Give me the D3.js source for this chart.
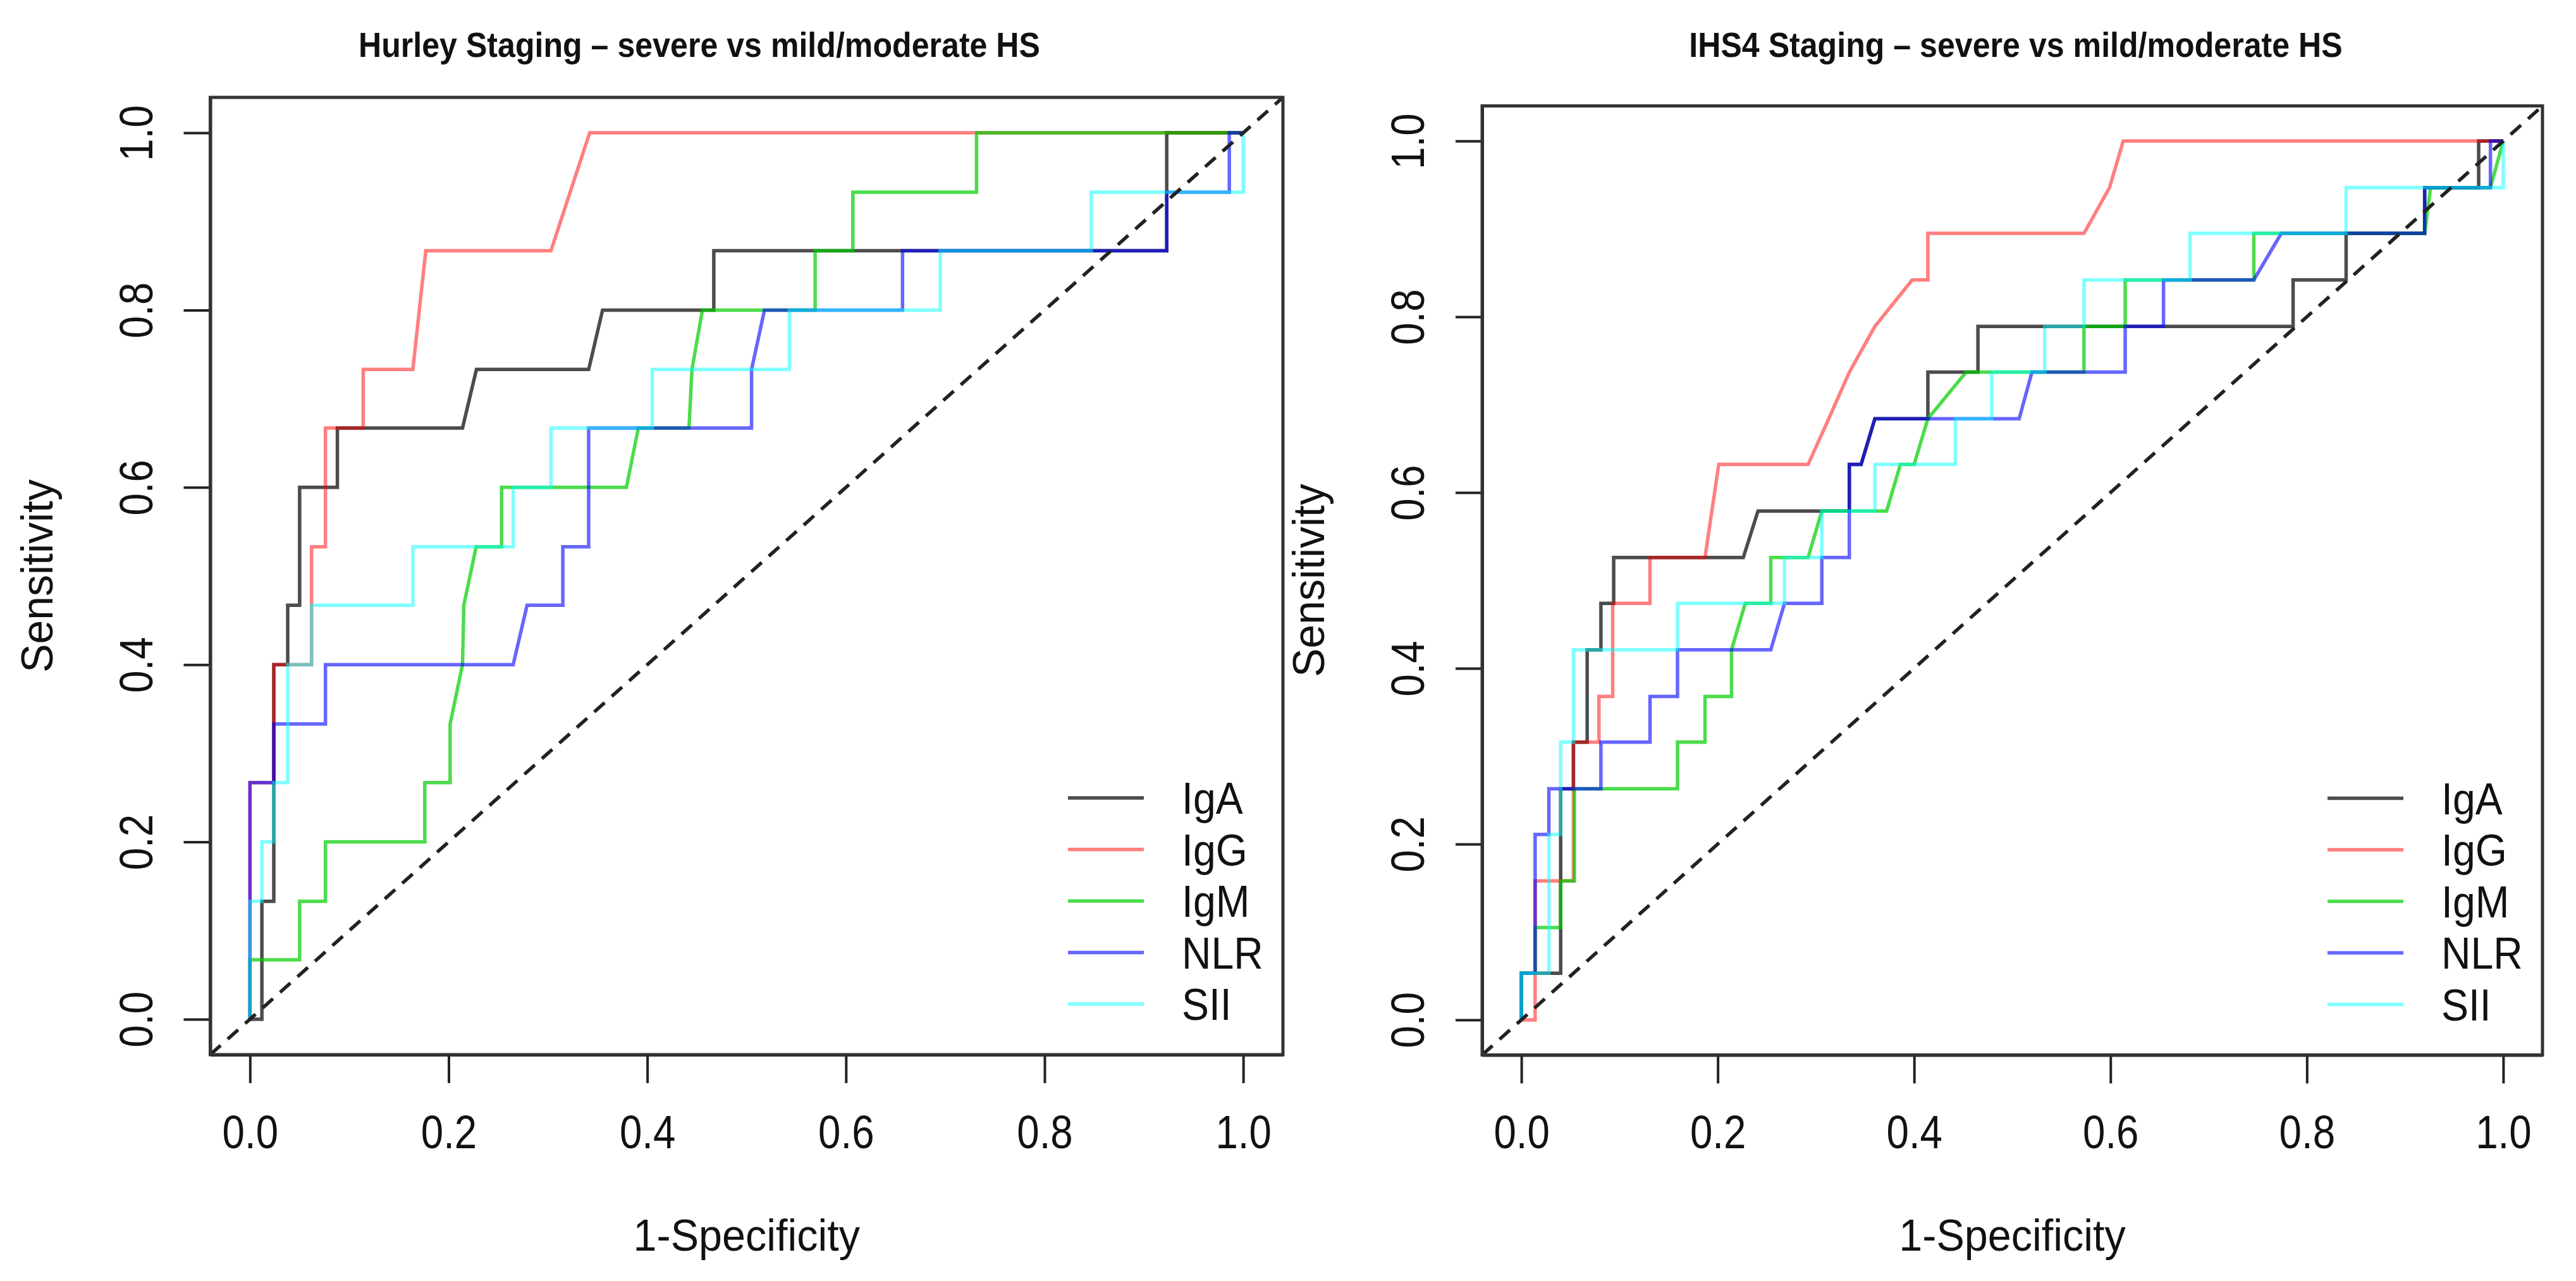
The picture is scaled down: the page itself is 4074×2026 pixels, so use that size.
<!DOCTYPE html>
<html>
<head>
<meta charset="utf-8">
<script src="https://cdn.jsdelivr.net/npm/d3@7"></script>
<style>
  body { margin: 0; background: #fff; }
  text { font-family: "Liberation Sans", Arial, Helvetica, sans-serif; fill: #111; }
</style>
</head>
<body>
<svg id="roc"></svg>
<script>
// --- data (x = 1-Specificity, y = Sensitivity) ---
const markers = ["IgA", "IgG", "IgM", "NLR", "SII"];
const tickValues = [0, 0.2, 0.4, 0.6, 0.8, 1.0];
const tickLabels = ["0.0", "0.2", "0.4", "0.6", "0.8", "1.0"];
const panelTitles = ["Hurley Staging \u2013 severe vs mild/moderate HS", "IHS4 Staging \u2013 severe vs mild/moderate HS"];

// Hurley staging (15 severe cases)
const hurleyIgA = [[0,0],[0.012,0],[0.012,0.133],[0.024,0.133],[0.024,0.4],[0.038,0.4],[0.038,0.467],[0.05,0.467],[0.05,0.6],[0.088,0.6],[0.088,0.667],[0.214,0.667],[0.228,0.733],[0.341,0.733],[0.355,0.8],[0.467,0.8],[0.467,0.867],[0.923,0.867],[0.923,1],[1,1]];
const hurleyIgG = [[0,0],[0,0.267],[0.024,0.267],[0.024,0.4],[0.062,0.4],[0.062,0.533],[0.076,0.533],[0.076,0.667],[0.114,0.667],[0.114,0.733],[0.164,0.733],[0.177,0.867],[0.303,0.867],[0.342,1],[1,1]];
const hurleyIgM = [[0,0],[0,0.067],[0.05,0.067],[0.05,0.133],[0.076,0.133],[0.076,0.2],[0.176,0.2],[0.176,0.267],[0.2015,0.267],[0.2015,0.333],[0.214,0.4],[0.2153,0.467],[0.2277,0.533],[0.2533,0.533],[0.2533,0.6],[0.379,0.6],[0.391,0.667],[0.442,0.667],[0.445,0.733],[0.4555,0.8],[0.569,0.8],[0.569,0.867],[0.607,0.867],[0.607,0.933],[0.7315,0.933],[0.7315,1],[1,1]];
const hurleyNLR = [[0,0],[0,0.267],[0.024,0.267],[0.024,0.333],[0.076,0.333],[0.076,0.4],[0.265,0.4],[0.279,0.467],[0.315,0.467],[0.315,0.533],[0.341,0.533],[0.341,0.667],[0.505,0.667],[0.505,0.733],[0.518,0.8],[0.657,0.8],[0.657,0.867],[0.923,0.867],[0.923,0.933],[0.986,0.933],[0.986,1],[1,1]];
const hurleySII = [[0,0],[0,0.133],[0.012,0.133],[0.012,0.2],[0.024,0.2],[0.024,0.267],[0.038,0.267],[0.038,0.4],[0.062,0.4],[0.062,0.467],[0.164,0.467],[0.164,0.533],[0.265,0.533],[0.265,0.6],[0.303,0.6],[0.303,0.667],[0.405,0.667],[0.405,0.733],[0.543,0.733],[0.543,0.8],[0.695,0.8],[0.695,0.867],[0.847,0.867],[0.847,0.933],[1,0.933],[1,1]];

// IHS4 staging (19 severe cases)
const ihs4IgA = [[0,0],[0,0.053],[0.040,0.053],[0.040,0.263],[0.053,0.263],[0.053,0.316],[0.067,0.316],[0.067,0.421],[0.081,0.421],[0.081,0.474],[0.094,0.474],[0.094,0.526],[0.226,0.526],[0.241,0.579],[0.334,0.579],[0.334,0.632],[0.346,0.632],[0.360,0.684],[0.414,0.684],[0.414,0.737],[0.465,0.737],[0.465,0.789],[0.786,0.789],[0.786,0.842],[0.840,0.842],[0.840,0.895],[0.920,0.895],[0.920,0.947],[0.975,0.947],[0.975,1],[1,1]];
const ihs4IgG = [[0,0],[0.014,0],[0.014,0.158],[0.053,0.158],[0.053,0.316],[0.079,0.316],[0.079,0.368],[0.093,0.368],[0.093,0.474],[0.131,0.474],[0.131,0.526],[0.187,0.526],[0.201,0.632],[0.292,0.632],[0.313,0.684],[0.334,0.737],[0.360,0.789],[0.398,0.842],[0.414,0.842],[0.414,0.895],[0.573,0.895],[0.599,0.947],[0.613,1],[1,1]];
const ihs4IgM = [[0,0],[0,0.053],[0.014,0.053],[0.014,0.105],[0.040,0.105],[0.040,0.158],[0.054,0.158],[0.054,0.263],[0.159,0.263],[0.159,0.316],[0.187,0.316],[0.187,0.368],[0.214,0.368],[0.214,0.421],[0.228,0.474],[0.254,0.474],[0.254,0.526],[0.292,0.526],[0.306,0.579],[0.372,0.579],[0.386,0.632],[0.400,0.632],[0.414,0.684],[0.453,0.737],[0.573,0.737],[0.573,0.789],[0.615,0.789],[0.615,0.842],[0.746,0.842],[0.746,0.895],[0.920,0.895],[0.926,0.947],[0.987,0.947],[1,1]];
const ihs4NLR = [[0,0],[0,0.053],[0.014,0.053],[0.014,0.211],[0.028,0.211],[0.028,0.263],[0.081,0.263],[0.081,0.316],[0.131,0.316],[0.131,0.368],[0.159,0.368],[0.159,0.421],[0.254,0.421],[0.268,0.474],[0.306,0.474],[0.306,0.526],[0.334,0.526],[0.334,0.632],[0.346,0.632],[0.360,0.684],[0.507,0.684],[0.520,0.737],[0.615,0.737],[0.615,0.789],[0.654,0.789],[0.654,0.842],[0.746,0.842],[0.774,0.895],[0.920,0.895],[0.920,0.947],[0.987,0.947],[0.987,1],[1,1]];
const ihs4SII = [[0,0],[0,0.053],[0.028,0.053],[0.028,0.211],[0.040,0.211],[0.040,0.316],[0.053,0.316],[0.053,0.421],[0.159,0.421],[0.159,0.474],[0.268,0.474],[0.268,0.526],[0.306,0.526],[0.306,0.579],[0.360,0.579],[0.360,0.632],[0.442,0.632],[0.442,0.684],[0.479,0.684],[0.479,0.737],[0.533,0.737],[0.533,0.789],[0.573,0.789],[0.573,0.842],[0.681,0.842],[0.681,0.895],[0.840,0.895],[0.840,0.947],[1,0.947],[1,1]];

const hurleyCurves = [hurleyIgA, hurleyIgG, hurleyIgM, hurleyNLR, hurleySII];
const ihs4Curves = [ihs4IgA, ihs4IgG, ihs4IgM, ihs4NLR, ihs4SII];

// styles (R colours 1..5 drawn semi-transparent)
const lineColors = ["rgba(0,0,0,0.7)", "rgba(255,0,0,0.5)", "rgba(0,205,0,0.7)", "rgba(0,0,255,0.6)", "rgba(0,255,255,0.5)"];

const svg_width = 4074, svg_height = 2026;
const svg = d3.select("#roc")
    .attr("width", svg_width)
    .attr("height", svg_height);

svg.append("rect").attr("width", svg_width).attr("height", svg_height).attr("fill", "#fff");

// the original text is a narrow face, so squeeze the glyphs a bit
function squeeze(sel, k) {
    sel.each(function() {
        const w = this.getComputedTextLength();
        d3.select(this).attr("textLength", w * k).attr("lengthAdjust", "spacingAndGlyphs");
    });
}

function drawPanel(box, title, titleX, curves) {
    const x = d3.scaleLinear().domain([-0.04, 1.04]).range([box.left, box.right]);
    const y = d3.scaleLinear().domain([-0.04, 1.04]).range([box.bottom, box.top]);
    const g = svg.append("g");

    // curves
    const line = d3.line().x(d => x(d[0])).y(d => y(d[1]));
    curves.forEach((c, i) => {
        g.append("path")
            .datum(c)
            .attr("fill", "none")
            .attr("stroke", lineColors[i])
            .attr("stroke-width", 5.5)
            .attr("stroke-linejoin", "miter")
            .attr("d", line);
    });

    // chance line
    g.append("line")
        .attr("x1", x(-0.04)).attr("y1", y(-0.04))
        .attr("x2", x(1.04)).attr("y2", y(1.04))
        .attr("stroke", "#222")
        .attr("stroke-width", 5.5)
        .attr("stroke-dasharray", "22 15");

    // axes
    const xAxis = g.append("g")
        .attr("transform", `translate(0, ${box.bottom})`)
        .call(d3.axisBottom(x).tickValues(tickValues).tickFormat((d, i) => tickLabels[i])
            .tickSize(45).tickSizeOuter(0).tickPadding(50));
    const yAxis = g.append("g")
        .attr("transform", `translate(${box.left}, 0)`)
        .call(d3.axisLeft(y).tickValues(tickValues).tickFormat((d, i) => tickLabels[i])
            .tickSize(42).tickSizeOuter(0));
    [xAxis, yAxis].forEach(a => {
        a.select(".domain").attr("stroke", "#111").attr("stroke-width", 5);
        a.selectAll(".tick line").attr("stroke", "#222").attr("stroke-width", 4);
        a.selectAll("text").attr("font-size", 74).attr("fill", "#111").style("font-family", null);
    });
    yAxis.selectAll("text")
        .attr("x", 0).attr("y", -92).attr("dy", 0)
        .attr("text-anchor", "middle")
        .attr("transform", "rotate(-90)");
    squeeze(xAxis.selectAll("text"), 0.86);
    squeeze(yAxis.selectAll("text"), 0.86);

    // frame
    g.append("rect")
        .attr("x", box.left).attr("y", box.top)
        .attr("width", box.right - box.left).attr("height", box.bottom - box.top)
        .attr("fill", "none").attr("stroke", "#333").attr("stroke-width", 5);

    // labels
    const t = g.append("text")
        .attr("x", titleX).attr("y", 90)
        .attr("text-anchor", "middle")
        .attr("font-size", 56).attr("font-weight", "bold")
        .text(title);
    squeeze(t, 0.895);

    const xl = g.append("text")
        .attr("x", (x(0) + x(1)) / 2).attr("y", 1978)
        .attr("text-anchor", "middle")
        .attr("font-size", 70)
        .text("1-Specificity");
    squeeze(xl, 0.95);

    const yl = g.append("text")
        .attr("transform", `translate(${box.left - 250}, ${(y(0) + y(1)) / 2}) rotate(-90)`)
        .attr("text-anchor", "middle")
        .attr("font-size", 70)
        .text("Sensitivity");
    squeeze(yl, 0.97);

    // legend
    const leg = g.append("g")
        .attr("transform", `translate(${box.right}, ${box.bottom - 80})`);
    markers.forEach((m, i) => {
        const ly = -(markers.length - 1 - i) * 81.5;
        leg.append("line")
            .attr("x1", -340).attr("x2", -220)
            .attr("y1", ly).attr("y2", ly)
            .attr("stroke", lineColors[i]).attr("stroke-width", 5.5);
        const lt = leg.append("text")
            .attr("x", -160).attr("y", ly).attr("dy", "0.36em")
            .attr("font-size", 70)
            .text(m);
        squeeze(lt, 0.92);
    });
}

drawPanel({ left: 332.5, right: 2029, top: 154, bottom: 1668 }, panelTitles[0], 1106, hurleyCurves);
drawPanel({ left: 2344, right: 4021, top: 167.5, bottom: 1668.5 }, panelTitles[1], 3188, ihs4Curves);
</script>
</body>
</html>
